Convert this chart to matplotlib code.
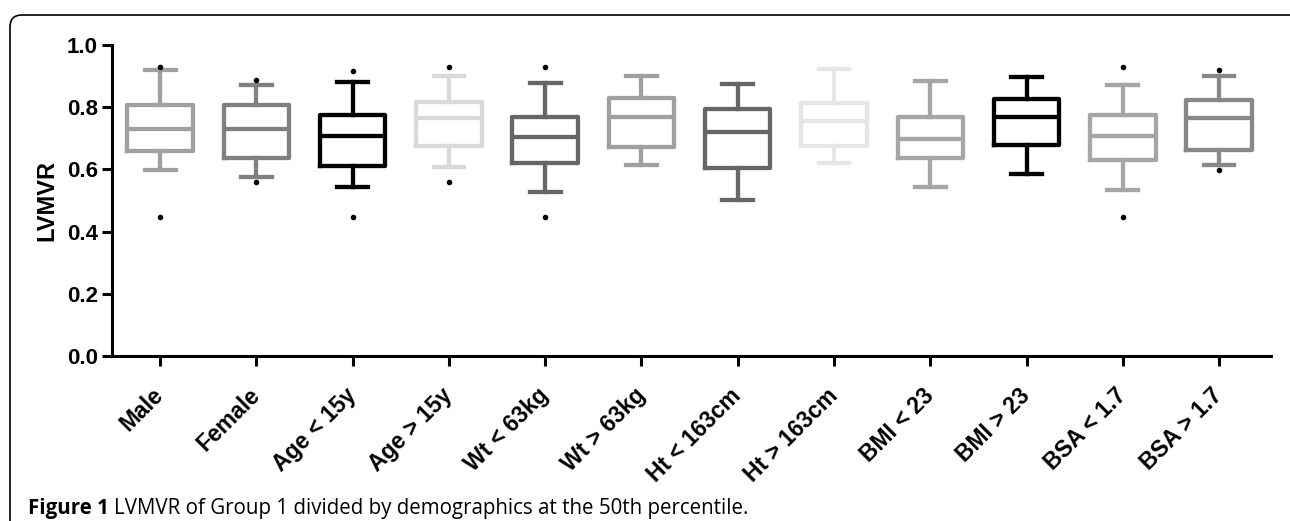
import matplotlib
matplotlib.use("Agg")
import matplotlib.pyplot as plt
from matplotlib.patches import FancyBboxPatch
from matplotlib.transforms import ScaledTranslation

plt.rcParams['font.family'] = ['Liberation Sans', 'DejaVu Sans']

# Groups and box summary values
groups = ["Male", "Female", "Age < 15y", "Age > 15y", "Wt < 63kg", "Wt > 63kg",
          "Ht < 163cm", "Ht > 163cm", "BMI < 23", "BMI > 23", "BSA < 1.7", "BSA > 1.7"]
whisker_low = [0.599, 0.574, 0.542, 0.608, 0.526, 0.615, 0.503, 0.622, 0.542, 0.586, 0.535, 0.613]
q1 = [0.660, 0.638, 0.610, 0.674, 0.620, 0.672, 0.606, 0.674, 0.638, 0.679, 0.631, 0.661]
median = [0.730, 0.730, 0.706, 0.765, 0.704, 0.768, 0.720, 0.757, 0.698, 0.768, 0.708, 0.765]
q3 = [0.807, 0.807, 0.775, 0.816, 0.768, 0.829, 0.795, 0.813, 0.767, 0.827, 0.775, 0.824]
whisker_high = [0.920, 0.872, 0.882, 0.900, 0.879, 0.900, 0.874, 0.922, 0.885, 0.898, 0.872, 0.901]
outliers = [[0.930, 0.447], [0.888, 0.558], [0.918, 0.447], [0.928, 0.558], [0.928, 0.447], [],
            [], [], [], [], [0.928, 0.447], [0.920, 0.599]]
colors = ["#a0a0a0", "#808080", "#000000", "#d9d9d9", "#666666", "#a0a0a0",
          "#666666", "#e6e6e6", "#a6a6a6", "#000000", "#a6a6a6", "#888888"]
yticks = [0.0, 0.2, 0.4, 0.6, 0.8, 1.0]

fig = plt.figure(figsize=(12.9, 5.21), dpi=100)
ax = fig.add_axes([0.0868, 0.3167, 0.8985, 0.5969])

stats = []
for i in range(len(groups)):
    stats.append({"whislo": whisker_low[i], "q1": q1[i], "med": median[i],
                  "q3": q3[i], "whishi": whisker_high[i], "fliers": outliers[i]})

lw = 3.1
for i, s in enumerate(stats):
    c = colors[i]
    ax.bxp([s], positions=[i], widths=0.68, showfliers=True,
           boxprops=dict(color=c, linewidth=lw, solid_joinstyle="round"),
           medianprops=dict(color=c, linewidth=lw),
           whiskerprops=dict(color=c, linewidth=lw),
           capprops=dict(color=c, linewidth=lw),
           capwidths=0.32,
           flierprops=dict(marker="o", markersize=3, markerfacecolor="black",
                           markeredgecolor="black", linestyle="none"))

ax.set_xlim(-0.5, 11.54)
ax.set_ylim(0, 1.0)
ax.set_yticks(yticks)
ax.set_yticklabels(["%.1f" % v for v in yticks], fontsize=16, fontweight="bold")
ax.set_xticks(range(len(groups)))
ax.set_xticklabels(groups, rotation=45, ha="right", va="top",
                   rotation_mode="anchor", fontsize=16.5, fontweight="bold")
ax.set_ylabel("LVMVR", fontsize=17, fontweight="bold", labelpad=6)

for side in ["top", "right"]:
    ax.spines[side].set_visible(False)
for side in ["left", "bottom"]:
    ax.spines[side].set_linewidth(2.2)
ax.tick_params(axis="both", width=2.2, length=7, pad=3)
ax.tick_params(axis="x", pad=13)
shift = ScaledTranslation(-0.08, 0, fig.dpi_scale_trans)
for lab in ax.get_xticklabels():
    lab.set_transform(lab.get_transform() + shift)

# rounded frame around the figure and caption
frame = FancyBboxPatch((0.10, -1.0), 14.0, 6.06, boxstyle="round,pad=0,rounding_size=0.12",
                       transform=fig.dpi_scale_trans, fill=False, edgecolor="black",
                       linewidth=1.2)
fig.add_artist(frame)

cap1 = fig.text(28 / 1290, 1 - 514 / 521, "Figure 1", fontsize=14.8, fontweight="bold",
                family="Open Sans", ha="left", va="baseline")
fig.canvas.draw()
bb = cap1.get_window_extent(renderer=fig.canvas.get_renderer())
fig.text(bb.x1 / 1290 + 5 / 1290, 1 - 514 / 521,
         "LVMVR of Group 1 divided by demographics at the 50th percentile.",
         fontsize=14.8, family="Open Sans", ha="left", va="baseline")

fig.savefig("out.png", dpi=100)
